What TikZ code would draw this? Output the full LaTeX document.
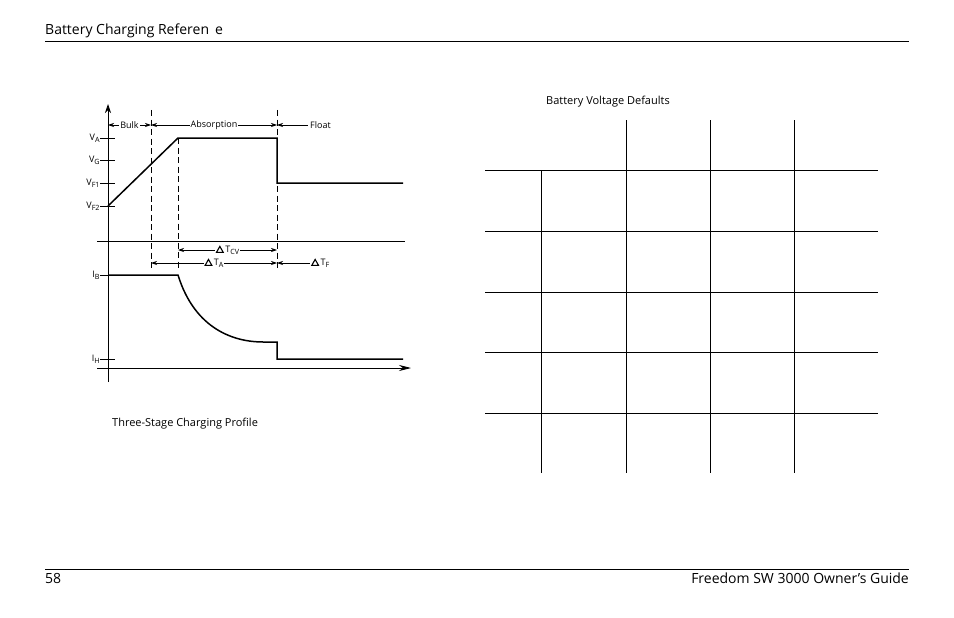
\documentclass[tikz,border=0pt]{standalone}
\usepackage{fontspec}
\setmainfont{Open Sans}
\usetikzlibrary{arrows.meta}
\usepackage{amsmath,graphicx}
\newcommand\lowsub[1]{\raisebox{-0.35ex}{\scalebox{0.8}{#1}}}
\newcommand\deltasym{\tikz[baseline=0pt]\draw[line width=1.1pt,line join=miter] (0,0) -- (3.4pt,6pt) -- (6.8pt,0) -- cycle;\,}
\tikzset{
  curve/.style={line width=1.5pt},
  guide/.style={dashed,dash pattern=on 6pt off 3.5pt,line width=0.8pt},
  span/.style={line width=0.7pt,{Stealth[length=6pt,width=4pt]}-{Stealth[length=6pt,width=4pt]}},
  lbl/.style={font=\fontsize{9}{10}\selectfont,fill=white,inner sep=1pt},
  tick/.style={font=\fontsize{9}{10}\selectfont,left,inner sep=1pt}
}
\begin{document}
\begin{tikzpicture}[x=1pt,y=-1pt,>=Stealth]
  \useasboundingbox (0,0) rectangle (954,618);
  %
  % Page header and footer
  \node[anchor=base west,font=\fontsize{14}{16}\selectfont,inner sep=0] (title) at (45,35) {Battery Charging Referen\ \,e};
  \draw[line width=0.6pt] (45,41) -- (909,41);
  \draw[line width=0.6pt] (45,569) -- (909,569);
  \node[anchor=base west,font=\fontsize{14}{16}\selectfont,inner sep=0] (page) at (45,583) {58};
  \node[anchor=base east,font=\fontsize{14}{16}\selectfont,inner sep=0] (guide) at (909,583) {Freedom SW 3000 Owner’s Guide};
  %
  % Axes
  \coordinate (o) at (108,382);
  \draw[line width=0.8pt,-{Stealth[length=9pt,width=6pt]}] (o) -- (108,104);
  \draw[line width=0.8pt,-{Stealth[length=12pt,width=6pt]}] (97,368) -- (411,368);
  \draw[line width=0.8pt] (97,241) -- (405,241);
  %
  % Ticks
  \foreach \y/\t in {138/V\lowsub{A},160/V\lowsub{G},183/V\lowsub{F1},206/V\lowsub{F2},275/I\lowsub{B},359/I\lowsub{H}}
    \draw[line width=0.8pt] (100,\y) -- (115,\y) node[tick] at (101,\y) {\t};
  %
  % Stage boundaries
  \foreach \x/\a in {151/110,178/138,277/110}
    \draw[guide] (\x,\a) -- (\x,270);
  %
  % Voltage and current curves
  \draw[curve] (108,206) -- (178,138) -- (277,138) -- (277,183) -- (403,183);
  \draw[curve] (108,275) -- (178,275) .. controls (195,330) and (235,342) .. (263,342)
    -- (277,342) -- (277,359) -- (403,359);
  %
  % Stage labels
  \draw[span] (108,125) -- node[lbl] {Bulk} (151,125);
  \draw[span] (151,125) -- node[lbl] {Absorption} (277,125);
  \draw[line width=0.7pt,{Stealth[length=6pt,width=4pt]}-] (277,125) -- (308,125);
  \node[lbl,anchor=west] (float) at (309,125) {Float};
  \draw[span] (178,250) -- node[lbl] {\deltasym T\lowsub{CV}} (277,250);
  \draw[span] (151,263) -- node[lbl] {\deltasym T\lowsub{A}} (277,263);
  \draw[line width=0.7pt,{Stealth[length=6pt,width=4pt]}-] (277,263) -- (310,263);
  \node[lbl,anchor=west] (tf) at (310,263) {\deltasym T\lowsub{F}};
  %
  \node[anchor=base west,font=\fontsize{11}{13}\selectfont,inner sep=0] (cap) at (112,426) {Three-Stage Charging Profile};
  %
  % Table
  \node[anchor=base west,font=\fontsize{11}{13}\selectfont,inner sep=0] (tabcap) at (546,105) {Battery Voltage Defaults};
  \foreach \x in {626,710,794}
    \draw[line width=0.8pt] (\x,120) -- (\x,473);
  \draw[line width=0.8pt] (541,170) -- (541,473);
  \foreach \y in {170,231,292,352,413}
    \draw[line width=0.8pt] (485,\y) -- (878,\y);
\end{tikzpicture}
\end{document}
